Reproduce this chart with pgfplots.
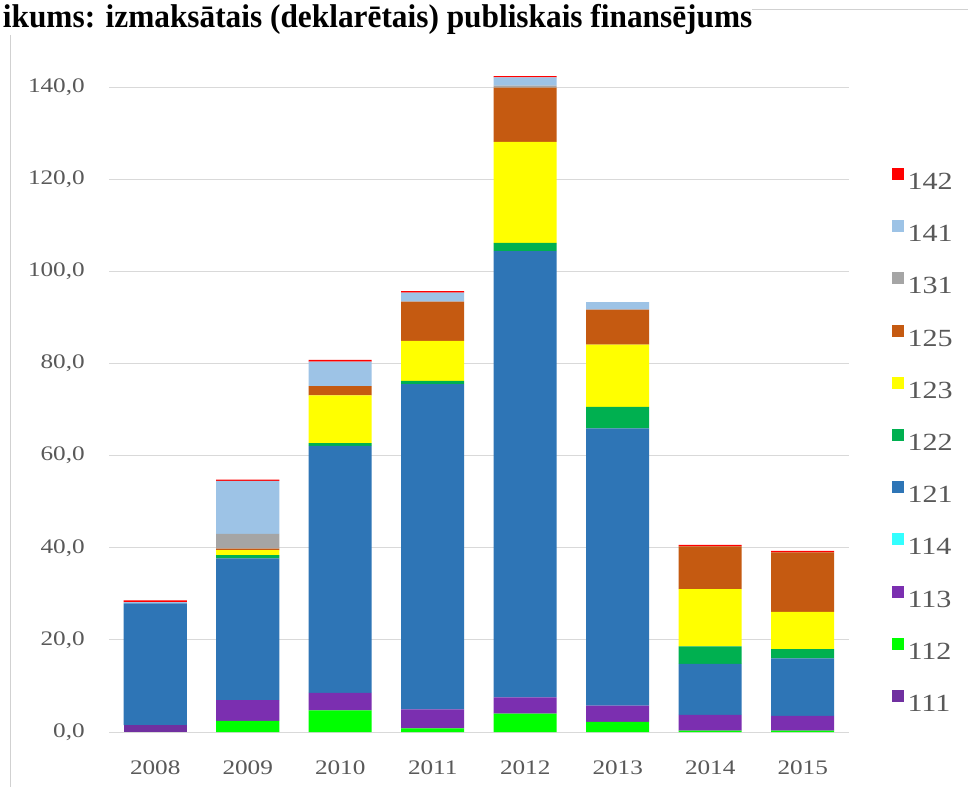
\documentclass[border=0pt]{standalone}
\usepackage{pgfplots}
\pgfplotsset{compat=1.18}
\usepackage{pgfplotstable}
\usepackage{graphicx}
\usepackage{fontspec}
\setmainfont{Liberation Serif}[FakeStretch=1.22]
\newfontfamily\titlefont{Liberation Serif}

\definecolor{c111}{HTML}{7030A0}
\definecolor{c112}{HTML}{00FF00}
\definecolor{c113}{HTML}{7B2FB0}
\definecolor{c114}{HTML}{33FFFF}
\definecolor{c121}{HTML}{2E75B6}
\definecolor{c122}{HTML}{00B050}
\definecolor{c123}{HTML}{FFFF00}
\definecolor{c125}{HTML}{C55A11}
\definecolor{c131}{HTML}{A5A5A5}
\definecolor{c141}{HTML}{9DC3E6}
\definecolor{c142}{HTML}{FF0000}
\definecolor{tick}{HTML}{595959}

\pgfplotstableread{
x a111 a112 a113 a114 a121 a122 a123 a125 a131 a141 a142
0 1.5 0   0   0 26.4 0   0    0    0   0.3  0.4
1 0   2.4 4.5 0 30.8 0.7 1.1  0.3  3.2 11.5 0.3
2 0   4.7 3.8 0 53.6 0.6 10.4 2.0  0   5.3  0.4
3 0   0.8 4.1 0 70.6 0.7 8.7  8.5  0   2.0  0.3
4 0   4.0 3.5 0 96.9 1.8 21.9 11.8 0.4 1.8  0.3
5 0   2.2 3.5 0 60.2 4.7 13.5 7.6  0   1.6  0
6 0   0.3 3.4 0 11.1 3.8 12.4 9.3  0   0    0.3
7 0   0.3 3.2 0 12.5 2.0 8.1  12.9 0   0    0.3
}\data

\begin{document}
\begin{tikzpicture}
\useasboundingbox (0,0) rectangle (726pt,-590.25pt);
\fill[white] (0,0) rectangle (726pt,-590.25pt);
\draw[black!18, line width=0.75pt] (7.5pt,-600pt) -- (7.5pt,-7.5pt) -- (740pt,-7.5pt);
\node[anchor=base west, inner sep=0pt, fill=white] at (2pt,-21pt) {\scalebox{1}[1.05]{\titlefont\fontsize{23.5pt}{24pt}\selectfont\bfseries ikums: izmaksātais (deklarētais) publiskais finansējums}};
\begin{axis}[
  at={(81.75pt,-549pt)}, anchor=south west,
  scale only axis, width=555pt, height=518.25pt,
  ybar stacked, bar width=47.25pt,
  xmin=-0.5, xmax=7.5, ymin=0, ymax=150,
  xtick={0,...,7}, xticklabels={2008,2009,2010,2011,2012,2013,2014,2015},
  ytick={0,20,...,140},
  ymajorgrids, major grid style={draw=black!15, line width=0.75pt},
  axis line style={draw=none},
  major tick length=0pt,
  tick label style={font=\fontsize{15.5pt}{18pt}\selectfont, text=tick},
  yticklabel style={inner sep=0pt, xshift=-18pt},
  xticklabel style={inner sep=0pt, yshift=-21pt},
  yticklabel style={/pgf/number format/.cd, fixed, fixed zerofill, precision=1, use comma, assume math mode=true},
  legend style={at={(1.058,0.8336)}, anchor=north west, draw=none, fill=none, inner sep=0pt, row sep=0pt,
    font=\fontsize{18.5pt}{20pt}\selectfont,
    nodes={inner sep=0pt, minimum height=39.15pt, text=tick},
    /tikz/every odd column/.append style={column sep=2.5pt}},
  legend cell align=left,
  reverse legend,
  legend image code/.code={\fill[#1] (0pt,1.8pt) rectangle (9pt,10.8pt);},
  every axis plot/.append style={draw=none},
]
\addplot[fill=c111] table[x=x,y=a111]{\data};
\addplot[fill=c112] table[x=x,y=a112]{\data};
\addplot[fill=c113] table[x=x,y=a113]{\data};
\addplot[fill=c114] table[x=x,y=a114]{\data};
\addplot[fill=c121] table[x=x,y=a121]{\data};
\addplot[fill=c122] table[x=x,y=a122]{\data};
\addplot[fill=c123] table[x=x,y=a123]{\data};
\addplot[fill=c125] table[x=x,y=a125]{\data};
\addplot[fill=c131] table[x=x,y=a131]{\data};
\addplot[fill=c141] table[x=x,y=a141]{\data};
\addplot[fill=c142] table[x=x,y=a142]{\data};
\legend{111,112,113,114,121,122,123,125,131,141,142}
\end{axis}
\end{tikzpicture}
\end{document}
